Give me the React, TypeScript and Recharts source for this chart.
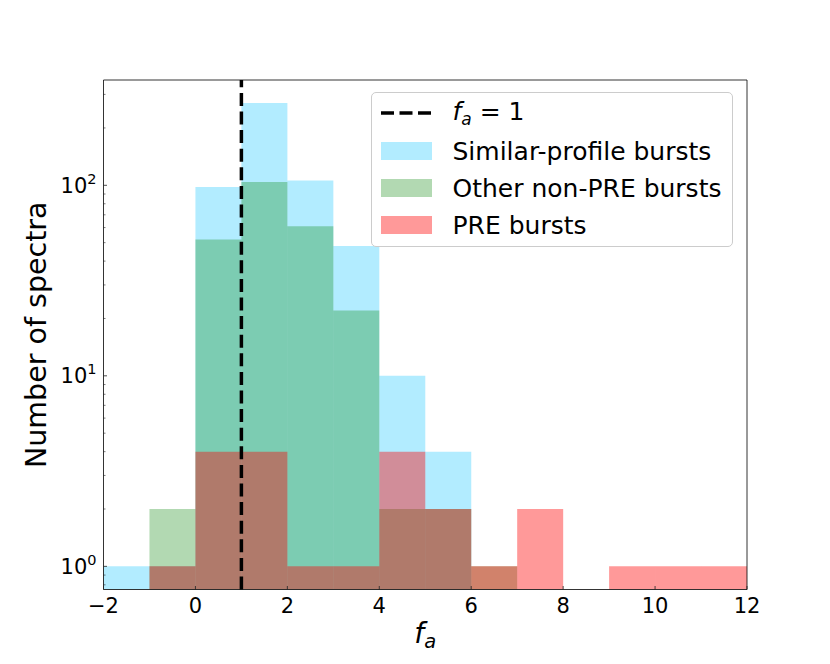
import React from 'react';
import { BarChart, Bar, XAxis, YAxis, ReferenceLine, Legend } from 'recharts';

// histogram bins of width 1, labelled by their left edge
const binEdges = [-2, -1, 0, 1, 2, 3, 4, 5, 6, 7, 8, 9, 10, 11];
const similarProfile = [1, 1, 98, 270, 106, 48, 10, 4, 0, 0, 0, 0, 0, 0];
const otherNonPre = [0, 2, 52, 104, 61, 22, 2, 2, 1, 0, 0, 0, 0, 0];
const preBursts = [0, 1, 4, 4, 1, 1, 4, 2, 1, 2, 0, 1, 1, 1];

const xDomain = [-2, 12];
const xTicks = [-2, 0, 2, 4, 6, 8, 10, 12];
const yDomain = [0.756, 357];
const yMajorTicks = [1, 10, 100];
const yMinorTicks = [0.8, 0.9, 2, 3, 4, 5, 6, 7, 8, 9, 20, 30, 40, 50, 60, 70, 80, 90, 200, 300];
const faLine = 1;

const FONT = '"DejaVu Sans", sans-serif';

const series = [
    { key: 'similar', name: 'Similar-profile bursts', color: '#00bfff', alpha: 0.3 },
    { key: 'other', name: 'Other non-PRE bursts', color: '#008000', alpha: 0.3 },
    { key: 'pre', name: 'PRE bursts', color: '#ff0000', alpha: 0.4 }
];

// zero counts cannot sit on a log axis, so they become gaps
const data = binEdges.map((edge, i) => ({
    bin: String(edge),
    edge,
    similar: similarProfile[i] || null,
    other: otherNonPre[i] || null,
    pre: preBursts[i] || null
}));

const YTick = ({ x, y, payload }: any) => {
    const v = payload.value;
    const major = yMajorTicks.includes(v);
    return (
        <g>
            <line x1={x} x2={x + (major ? 3.5 : 2)} y1={y} y2={y} stroke="#222" strokeWidth={major ? 0.8 : 0.6} />
            {major && (
                <text x={x - 7} y={y + 7.5} textAnchor="end" fontSize={21} fill="#000" fontFamily={FONT}>
                    10<tspan dy={-9} fontSize={14.5}>{Math.round(Math.log10(v))}</tspan>
                </text>
            )}
        </g>
    );
};

const XTick = ({ x, y, payload }: any) => (
    <g>
        <line x1={x} x2={x} y1={y} y2={y - 3.5} stroke="#222" strokeWidth={0.8} />
        <text x={x} y={y + 23} textAnchor="middle" fontSize={21} fill="#000" fontFamily={FONT}>
            {payload.value < 0 ? '\u2212' + Math.abs(payload.value) : payload.value}
        </text>
    </g>
);

const XLabel = ({ viewBox }: any) => (
    <text x={viewBox.x + viewBox.width / 2} y={viewBox.y + 53.5} textAnchor="middle" fontSize={28} fill="#000" fontFamily={FONT} fontStyle="italic">
        f<tspan dy={5} fontSize={19.5}>a</tspan>
    </text>
);

const YLabel = ({ viewBox }: any) => {
    const cx = 46;
    const cy = viewBox.y + viewBox.height / 2;
    return (
        <text x={cx} y={cy} transform={`rotate(-90 ${cx} ${cy})`} textAnchor="middle" fontSize={28.5} fill="#000" fontFamily={FONT}>
            Number of spectra
        </text>
    );
};

const LegendBox = () => {
    const row = (top: number, swatch: React.ReactNode, label: React.ReactNode, k: string) => (
        <div key={k} style={{ position: 'absolute', left: 9, top, height: 30, display: 'flex', alignItems: 'center' }}>
            <div style={{ width: 51, display: 'flex', alignItems: 'center' }}>{swatch}</div>
            <span style={{ marginLeft: 21, fontSize: 25, fontFamily: FONT, color: '#000', whiteSpace: 'nowrap' }}>{label}</span>
        </div>
    );
    return (
        <div style={{ position: 'relative', width: 362, height: 155, border: '1px solid #cccccc', borderRadius: 5, background: 'rgba(255,255,255,0.8)', boxSizing: 'border-box' }}>
            {row(5,
                <svg width={51} height={6}><line x1={0} x2={51} y1={3} y2={3} stroke="#000" strokeWidth={3.5} strokeDasharray="13 5.5" /></svg>,
                <span><i>f</i><sub style={{ fontSize: 17, fontStyle: 'italic', verticalAlign: -5 }}>a</sub> = 1</span>,
                'line')}
            {series.map((s, i) =>
                row(43 + i * 37,
                    <div style={{ width: 51, height: 18, background: s.color, opacity: s.alpha }} />,
                    s.name,
                    s.key))}
        </div>
    );
};

const frame = { stroke: '#000', strokeWidth: 0.8 };

export default function App() {
    return (
        <div style={{ position: 'absolute', left: 0, top: 0, width: 830, height: 664, background: '#fff' }}>
            <BarChart
                width={830}
                height={664}
                data={data}
                margin={{ top: 80, right: 83, left: 0, bottom: 0 }}
                barCategoryGap={0}
                barGap={0}
            >
                {series.map(s => (
                    <XAxis key={s.key} xAxisId={s.key} dataKey="bin" type="category" hide />
                ))}
                <XAxis
                    xAxisId="num"
                    dataKey="edge"
                    type="number"
                    domain={xDomain}
                    allowDataOverflow
                    ticks={xTicks}
                    interval={0}
                    height={74.5}
                    tickSize={0}
                    tickMargin={0}
                    tick={<XTick />}
                    axisLine={frame}
                    label={{ content: (p: any) => <XLabel {...p} /> }}
                />
                <YAxis
                    scale="log"
                    type="number"
                    domain={yDomain}
                    allowDataOverflow
                    ticks={[...yMajorTicks, ...yMinorTicks].sort((a, b) => a - b)}
                    interval={0}
                    width={103.5}
                    tickSize={0}
                    tickMargin={0}
                    tick={<YTick />}
                    axisLine={frame}
                    label={{ content: (p: any) => <YLabel {...p} /> }}
                />
                {series.map(s => (
                    <Bar
                        key={s.key}
                        xAxisId={s.key}
                        dataKey={s.key}
                        name={s.name}
                        fill={s.color}
                        fillOpacity={s.alpha}
                        isAnimationActive={false}
                    />
                ))}
                <ReferenceLine xAxisId="num" x={faLine} stroke="#000" strokeWidth={3.5} strokeDasharray="13 5.6" />
                {/* top and right spines */}
                <ReferenceLine xAxisId="num" y={yDomain[1]} ifOverflow="visible" {...frame} />
                <ReferenceLine xAxisId="num" x={xDomain[1]} ifOverflow="visible" {...frame} />
                <Legend
                    layout="horizontal"
                    verticalAlign="middle"
                    wrapperStyle={{ position: 'absolute', left: 370.5, top: 92, width: 362, height: 155 }}
                    content={() => <LegendBox />}
                />
            </BarChart>
        </div>
    );
}
